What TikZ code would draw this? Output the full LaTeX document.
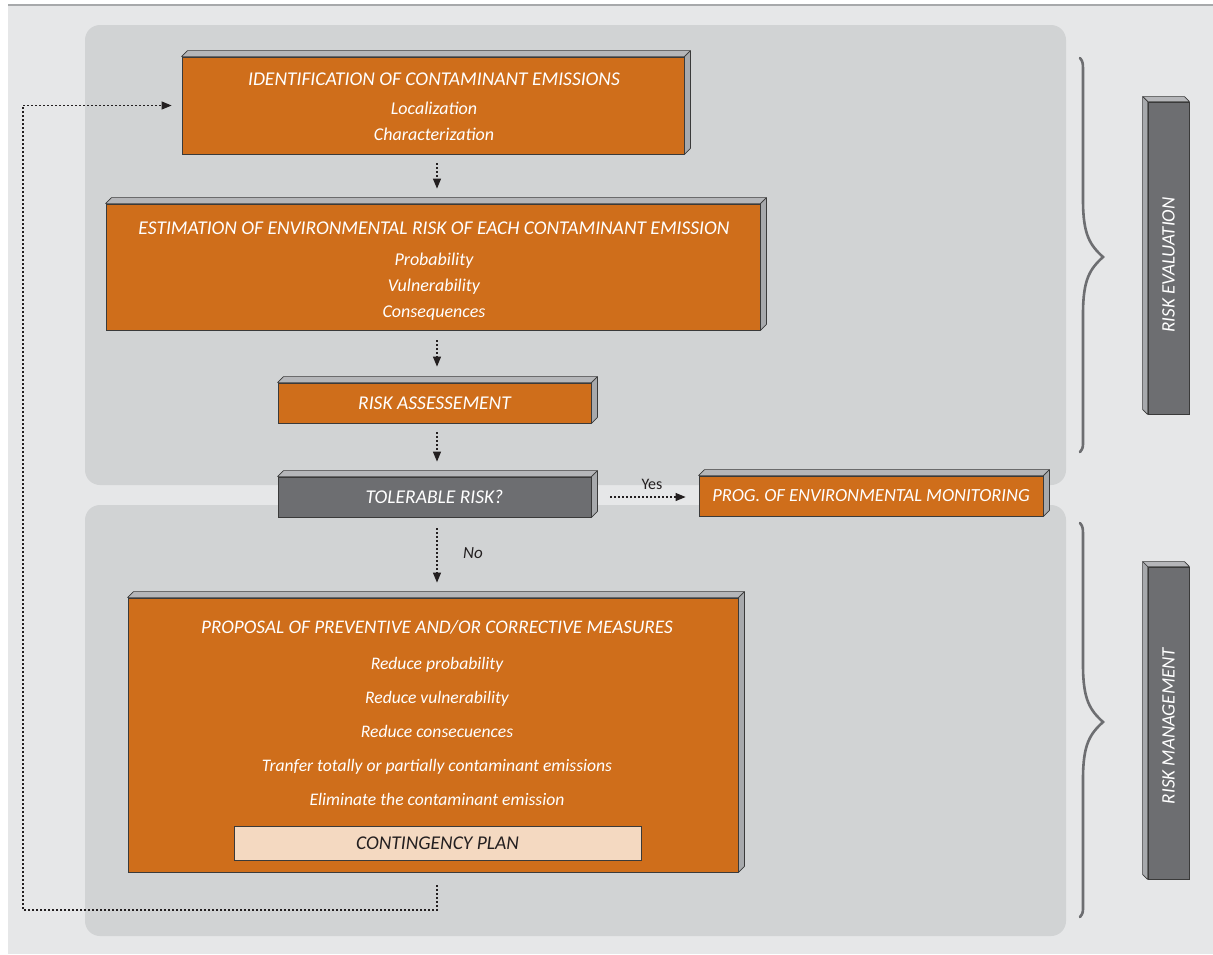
\documentclass[tikz,border=0pt]{standalone}
\usepackage{fontspec}
\setmainfont{Carlito}
\usetikzlibrary{arrows.meta}
\definecolor{pagebg}{HTML}{E6E7E8}
\definecolor{panel}{HTML}{D1D3D4}
\definecolor{orangebox}{HTML}{CF6E1B}
\definecolor{darkbox}{HTML}{6D6E71}
\definecolor{peach}{HTML}{F4D9C1}
\definecolor{edge}{HTML}{3A3A3A}
\definecolor{face}{HTML}{B5B6B9}
\definecolor{sideface}{HTML}{A7A9AC}
\definecolor{ink}{HTML}{231F20}
\definecolor{topline}{HTML}{A7A9AB}
\definecolor{bracecol}{HTML}{6D6E71}
\tikzset{
  obox/.style={draw=edge, line width=0.8pt, fill=orangebox, text=white,
    font=\fontsize{19.5}{26}\selectfont\itshape, align=center, inner sep=0pt},
  gbox/.style={obox, fill=darkbox},
  pbox/.style={obox, fill=peach, text=ink},
  btext/.style={text=white, font=\fontsize{18}{26}\selectfont\itshape, align=center, inner sep=0pt},
  sidetext/.style={text=white, font=\fontsize{19}{20}\selectfont\itshape, rotate=90, inner sep=0pt},
  lbl/.style={text=ink, font=\fontsize{16}{18}\selectfont, inner sep=0pt},
  dotarrow/.style={draw=ink, line width=1.1pt, dash pattern=on 2pt off 2pt,
    -{Triangle[width=8pt,length=10pt]}},
  panelbox/.style={fill=panel, rounded corners=15pt},
  facestyle/.style={fill=face, draw=edge, line width=0.7pt, line join=round},
  bracestyle/.style={draw=bracecol, line width=2.6pt, line cap=round},
}
\newcommand{\boxdepth}[1]{%
  \filldraw[facestyle] (#1.north west) -- ++(6,-6) -- ([shift={(6,-6)}]#1.north east) -- (#1.north east) -- cycle;
  \filldraw[facestyle, fill=sideface] (#1.north east) -- ++(6,-6) -- ([shift={(6,-6)}]#1.south east) -- (#1.south east) -- cycle;
}
\newcommand{\sidedepth}[1]{%
  \filldraw[facestyle] (#1.north west) -- ++(-5,-5) -- ([shift={(-5,-5)}]#1.north east) -- (#1.north east) -- cycle;
  \filldraw[facestyle, fill=sideface] (#1.north west) -- ++(-5,-5) -- ([shift={(-5,-5)}]#1.south west) -- (#1.south west) -- cycle;
}
\begin{document}
\begin{tikzpicture}[x=1pt, y=-1pt]
\useasboundingbox (0,0) rectangle (1213,954);
% background
\fill[white] (0,0) rectangle (1213,954);
\fill[pagebg] (8,5) rectangle (1213,954);
\draw[topline, line width=2pt] (8,5) -- (1213,5);
\fill[panelbox] (85,25) rectangle (1066,485);
\fill[panelbox] (85,505) rectangle (1066,936);

% boxes
\node[obox, minimum width=502pt, minimum height=97pt] (id) at (433,105.5) {};
\boxdepth{id}
\node[btext, font=\fontsize{18}{26}\selectfont\itshape] (idtext) at (434,107)
  {\fontsize{19.5}{22}\selectfont IDENTIFICATION OF CONTAMINANT EMISSIONS\\[3pt] Localization\\ Characterization};
\node[obox, minimum width=654pt, minimum height=126pt] (est) at (433,267) {};
\boxdepth{est}
\node[btext] (esttext) at (434,271)
  {\fontsize{19.5}{22}\selectfont ESTIMATION OF ENVIRONMENTAL RISK OF EACH CONTAMINANT EMISSION\\[5pt] Probability\\ Vulnerability\\ Consequences};
\node[obox, minimum width=313pt, minimum height=40pt] (ra) at (434.5,403) {RISK ASSESSEMENT};
\boxdepth{ra}
\node[gbox, minimum width=313pt, minimum height=40pt] (tol) at (434.5,497) {TOLERABLE RISK?};
\boxdepth{tol}
\node[obox, minimum width=344pt, minimum height=40pt, font=\fontsize{18.5}{22}\selectfont\itshape] (mon) at (871,496) {PROG. OF ENVIRONMENTAL MONITORING};
\boxdepth{mon}
\node[obox, minimum width=610pt, minimum height=274pt] (prop) at (433,735) {};
\boxdepth{prop}
\node[btext, font=\fontsize{17.6}{34}\selectfont\itshape] (proptext) at (437,713)
  {\fontsize{19.2}{22}\selectfont PROPOSAL OF PREVENTIVE AND/OR CORRECTIVE MEASURES\\[2pt]
   Reduce probability\\ Reduce vulnerability\\ Reduce consecuences\\
   Tranfer totally or partially contaminant emissions\\ Eliminate the contaminant emission};
\node[pbox, minimum width=407pt, minimum height=34pt] (cont) at (437.5,843) {CONTINGENCY PLAN};

% side bars
\node[gbox, minimum width=41pt, minimum height=312pt] (ev) at (1168.5,258) {};
\sidedepth{ev}
\node[sidetext] at ([yshift=-7pt]ev.center) {RISK EVALUATION};
\node[gbox, minimum width=41pt, minimum height=312pt] (mg) at (1168.5,723) {};
\sidedepth{mg}
\node[sidetext] at ([yshift=-3pt]mg.center) {RISK MANAGEMENT};

% braces
\draw[bracestyle] (1080,58) .. controls (1083,62) .. (1083,75) -- (1083,200)
  .. controls (1083,235) and (1090,245) .. (1103,257)
  .. controls (1090,269) and (1083,279) .. (1083,314) -- (1083,440)
  .. controls (1083,448) .. (1080,452);
\draw[bracestyle] (1080,523) .. controls (1083,527) .. (1083,540) -- (1083,665)
  .. controls (1083,700) and (1090,710) .. (1103,722)
  .. controls (1090,734) and (1083,744) .. (1083,779) -- (1083,905)
  .. controls (1083,913) .. (1080,917);

% arrows
\coordinate (ax) at (437,0);
\draw[dotarrow, shorten <=9pt, shorten >=15pt] (id.south -| ax) -- (est.north -| ax);
\draw[dotarrow, shorten <=10pt, shorten >=16pt] (est.south -| ax) -- (ra.north -| ax);
\draw[dotarrow, shorten <=9pt, shorten >=15pt] (ra.south -| ax) -- (tol.north -| ax);
\draw[dotarrow, shorten <=11pt, shorten >=15pt] (tol.south -| ax) -- (prop.north -| ax) ;
\node[lbl, font=\fontsize{17}{18}\selectfont\itshape] (nolbl) at (473,553) {No};
\draw[dotarrow, shorten <=19pt, shorten >=13pt] (tol.east) -- (tol.east -| mon.west);
\node[lbl] (yeslbl) at (652,484) {Yes};
\coordinate (fbstart) at (437,885);
\coordinate (fbcorner) at (23,910);
\draw[dotarrow, shorten >=10pt] (fbstart) |- (fbcorner) |- (id.west);
\end{tikzpicture}
\end{document}
